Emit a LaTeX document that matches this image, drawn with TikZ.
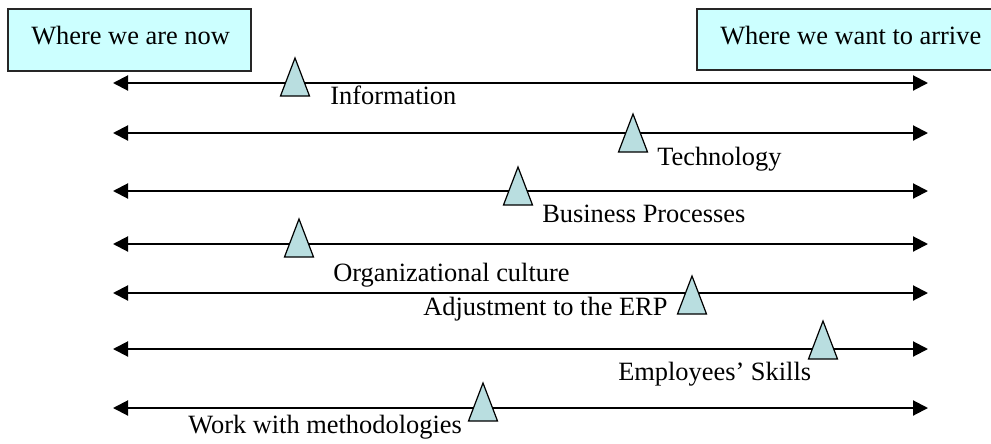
\documentclass[tikz,border=0pt]{standalone}
\usepackage{fontspec}
\setmainfont{Liberation Serif}
\usetikzlibrary{arrows.meta}
\definecolor{boxfill}{HTML}{CCFFFF}
\definecolor{trifill}{HTML}{B9DEE0}
\tikzset{
  lbl/.style={anchor=base west, inner sep=0pt, font=\fontsize{19.8pt}{22pt}\selectfont},
  goalbox/.style={draw=black!85, line width=1.1pt, fill=boxfill},
  axis/.style={line width=1.5pt, {Triangle[length=11.25pt,width=11.25pt]}-{Triangle[length=11.25pt,width=11.25pt]}},
  tri/.style={draw=black, line width=0.9pt, fill=trifill, line join=miter},
  marker/.pic={\draw[tri] (0,0) -- (-14.5,38) -- (14.5,38) -- cycle;}
}
\begin{document}
\begin{tikzpicture}[x=0.75pt,y=-0.75pt]
\fill[white] (0,0) rectangle (991,443);
\useasboundingbox (0,0) rectangle (991,443);
\clip (0,0) rectangle (991,443);
% goal boxes
\draw[goalbox] (8,9) rectangle (251,71);
\node[lbl] (now) at (31,44) {Where we are now};
\draw[goalbox] (697,9) rectangle (998,70);
\node[lbl] (arrive) at (720,44) {Where we want to arrive};
% axis end points
\foreach \i/\y in {1/83,2/133,3/191,4/244,5/293,6/349,7/408}{
  \coordinate (L\i) at (113,\y);
  \coordinate (R\i) at (928,\y);
  \draw[axis] (L\i) -- (R\i);
}
% markers
\pic at (295,58) {marker};
\pic at (633,114) {marker};
\pic at (518,167) {marker};
\pic at (299,219) {marker};
\pic at (692,276) {marker};
\pic at (823,321) {marker};
\pic at (483,383) {marker};
% labels
\node[lbl] (info) at (330,104) {Information};
\node[lbl] (tech) at (657,165) {Technology};
\node[lbl] (bp) at (542,222) {Business Processes};
\node[lbl] (org) at (333,281) {Organizational culture};
\node[lbl] (erp) at (423,315) {Adjustment to the ERP};
\node[lbl] (skills) at (618,380) {Employees’ Skills};
\node[lbl] (work) at (188,433) {Work with methodologies};
\end{tikzpicture}
\end{document}
